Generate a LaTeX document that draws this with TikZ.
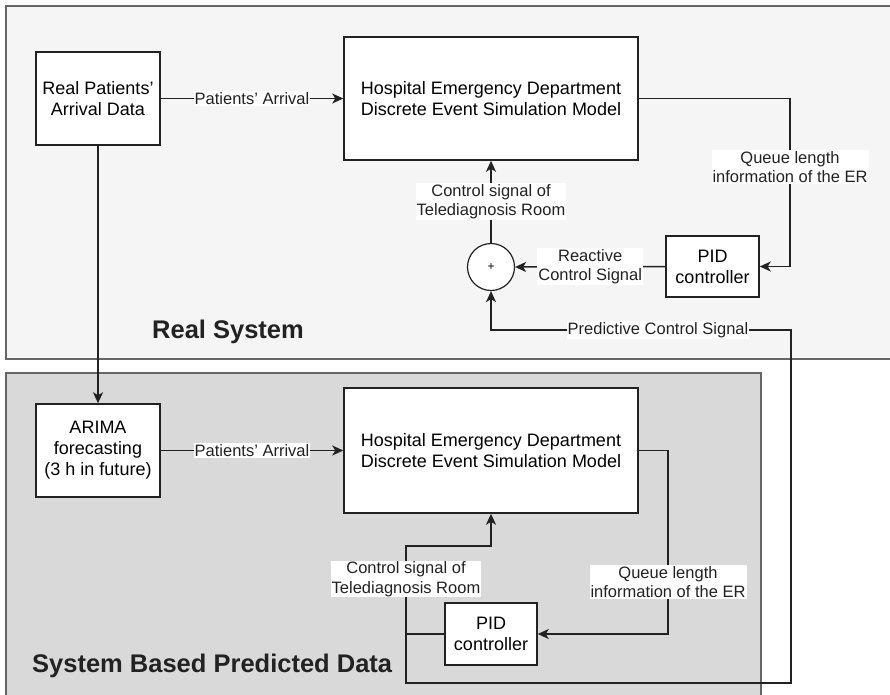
\documentclass[tikz,border=0pt]{standalone}
\usepackage{fontspec}
\setmainfont{Liberation Sans}[Ligatures=ResetAll]
\usetikzlibrary{arrows.meta}
\definecolor{topfill}{HTML}{F5F5F5}
\definecolor{botfill}{HTML}{D9D9D9}
\definecolor{contline}{HTML}{666666}
\definecolor{ink}{HTML}{222222}
\tikzset{
  box/.style={draw=ink, line width=1.5pt, fill=white, inner sep=0pt, align=center,
    font=\fontsize{18}{21}\selectfont},
  sumnode/.style={draw=ink, line width=1.2pt, fill=white, circle, minimum size=47pt, inner sep=0pt,
    font=\fontsize{12}{14}\selectfont},
  lbl/.style={fill=white, inner sep=1pt, align=center, text=ink, font=\fontsize{16.5}{19.5}\selectfont},
  arr/.style={draw=ink, line width=1.5pt, -{Stealth[length=11pt,width=10pt,inset=3pt]}},
  title/.style={font=\fontsize{25.5}{28}\selectfont\bfseries, text=ink, anchor=west, inner sep=0pt},
  cont/.style={draw=contline, line width=1.5pt}
}
\begin{document}
\begin{tikzpicture}[x=1pt,y=-1pt]
\useasboundingbox (0,0) rectangle (890,694);
\clip (0,0) rectangle (890,694);
% containers
\path[cont, fill=topfill] (6,6) rectangle (900,359);
\path[cont, fill=botfill] (6,373) rectangle (761,710);
% titles
\node[title] (t1) at (152,332) {Real System};
\node[title] (t2) at (32,666) {System Based Predicted Data};
% real system nodes
\node[box, minimum width=124pt, minimum height=93pt] (rp) at (98,98.5) {Real Patients'\\Arrival Data};
\node[box, minimum width=294pt, minimum height=123pt] (hosp1) at (491,98.5) {Hospital Emergency Department\\Discrete Event Simulation Model};
\node[box, minimum width=93pt, minimum height=61pt] (pid1) at (712.5,266.5) {PID\\controller};
\node[sumnode] (sum) at (491,267) {+};
% predicted system nodes
\node[box, minimum width=124pt, minimum height=93pt] (arima) at (98,450.5) {ARIMA\\forecasting\\(3 h in future)};
\node[box, minimum width=294pt, minimum height=125pt] (hosp2) at (491,450.5) {Hospital Emergency Department\\Discrete Event Simulation Model};
\node[box, minimum width=92pt, minimum height=62pt] (pid2) at (491,634) {PID\\controller};
% helper coordinates
\coordinate (q1a) at (790,98.5);
\coordinate (q1b) at (790,266.5);
\coordinate (q2a) at (668,450.5);
\coordinate (q2b) at (668,634);
\coordinate (c2a) at (406,634);
\coordinate (c2b) at (406,546);
\coordinate (c2c) at (491,546);
\coordinate (p1) at (406,683);
\coordinate (p2) at (791,683);
\coordinate (p3) at (791,330);
\coordinate (p4) at (491,330);
% connectors
\draw[arr] (rp) -- node[lbl]{Patients' Arrival} (hosp1);
\draw[arr] (hosp1.east) -- (q1a) -- (q1b) -- (pid1.east);
\draw[arr] (pid1.west) -- node[lbl]{Reactive\\Control Signal} (sum.east);
\draw[arr] (sum.north) -- node[lbl, pos=0.5]{Control signal of\\Telediagnosis Room} (hosp1.south);
\draw[arr] (rp.south) -- (arima.north);
\draw[arr] (arima) -- node[lbl]{Patients' Arrival} (hosp2);
\draw[arr] (hosp2.east) -- (q2a) -- (q2b) -- (pid2.east);
\draw[arr] (pid2.west) -- (c2a) -- (c2b) -- (c2c) -- (hosp2.south);
\draw[arr] (c2a) -- (p1) -- (p2) -- (p3) -- (p4) -- (sum.south);
% labels
\node[lbl] (lq1) at (790,167) {Queue length\\information of the ER};
\node[lbl] (lq2) at (668,582) {Queue length\\information of the ER};
\node[lbl] (lc2) at (406,579) {Control signal of\\Telediagnosis Room};
\node[lbl] (lp) at (658,330) {Predictive Control Signal};
\end{tikzpicture}
\end{document}
